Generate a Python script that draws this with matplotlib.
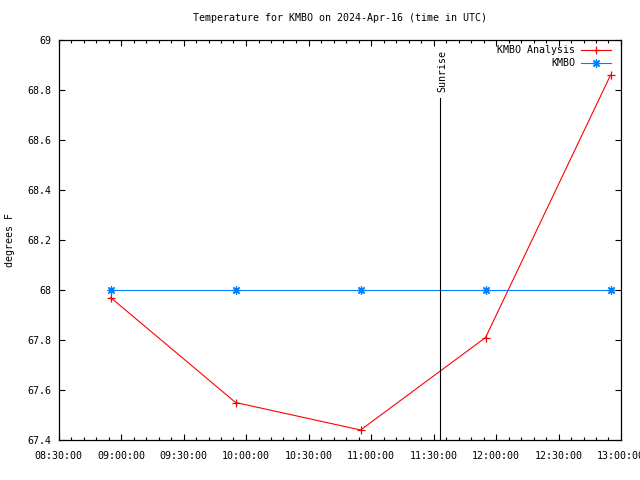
import matplotlib
matplotlib.use("Agg")
import matplotlib.pyplot as plt
import matplotlib.dates as mdates
import matplotlib.transforms as mtransforms
from matplotlib.ticker import FuncFormatter, MultipleLocator
from datetime import datetime

times = ["2024-04-16 08:55", "2024-04-16 09:55", "2024-04-16 10:55",
         "2024-04-16 11:55", "2024-04-16 12:55"]
analysis = [67.97, 67.55, 67.44, 67.81, 68.86]
observed = [68.0, 68.0, 68.0, 68.0, 68.0]
sunrise = "2024-04-16 11:33"
xstart = "2024-04-16 08:30"
xend = "2024-04-16 13:00"

fmt = "%Y-%m-%d %H:%M"
tx = [datetime.strptime(t, fmt) for t in times]

plt.rcParams['font.family'] = ['DejaVu Sans Mono']
fs = 7.2

fig = plt.figure(figsize=(6.4, 4.8), dpi=100)
ax = fig.add_axes([58.5/640, 40/480, (621-58.5)/640, 400/480])

ax.plot(tx, analysis, color='#ff0000', lw=0.8, marker='+', ms=6, mew=0.9,
        label='KMBO Analysis')
ax.plot(tx, observed, color='#0080ff', lw=0.8, marker=(8, 2, 0), ms=6, mew=0.9,
        label='KMBO')

sr = datetime.strptime(sunrise, fmt)
ax.axvline(sr, ymin=0, ymax=(440-98)/400, color='black', lw=0.8)
off = mtransforms.offset_copy(ax.transData, fig=fig, x=2.5, y=0, units='dots')
ax.text(sr, 68.96, 'Sunrise', rotation=90, ha='center', va='top', fontsize=fs,
        transform=off)

ax.set_xlim(datetime.strptime(xstart, fmt), datetime.strptime(xend, fmt))
ax.set_ylim(67.4, 69.0)
ax.xaxis.set_major_locator(mdates.MinuteLocator(byminute=[0, 30]))
ax.xaxis.set_minor_locator(mdates.MinuteLocator(byminute=range(0, 60, 6)))
ax.xaxis.set_major_formatter(mdates.DateFormatter('%H:%M:%S'))
ax.yaxis.set_major_locator(MultipleLocator(0.2))
ax.yaxis.set_major_formatter(FuncFormatter(lambda v, p: '%g' % round(v, 1)))

ax.tick_params(which='both', direction='in', top=True, right=True,
               labelsize=fs, width=0.8)
ax.tick_params(which='major', length=4.5, pad=5)
ax.tick_params(which='minor', length=2.5)
ax.tick_params(axis='x', pad=8)
for s in ax.spines.values():
    s.set_linewidth(0.9)

ax.set_title('Temperature for KMBO on 2024-Apr-16 (time in UTC)', fontsize=fs, pad=14)
fig.text(10/640, 0.5, 'degrees F', rotation=90, ha='center', va='center', fontsize=fs)

ax.legend(loc='upper right', bbox_to_anchor=(0.99, 0.997), markerfirst=False,
          frameon=False, fontsize=fs, handlelength=3.0, borderaxespad=0.0,
          labelspacing=0.3, handletextpad=0.6)

fig.savefig('out.png', dpi=100)
